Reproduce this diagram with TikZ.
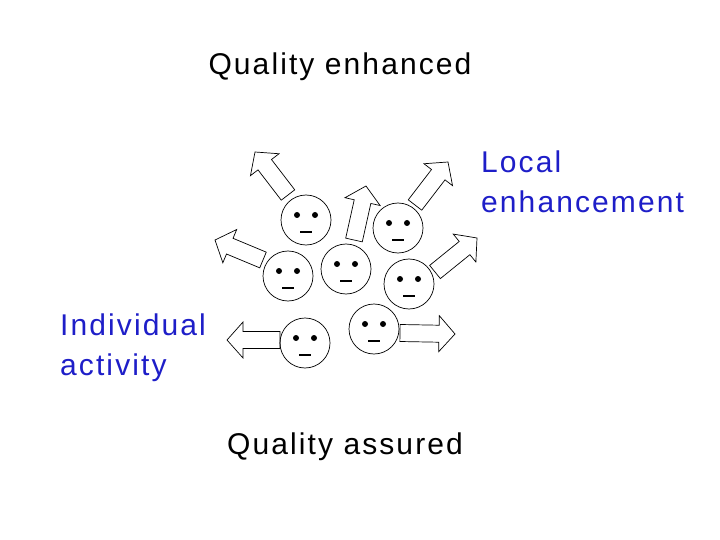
\documentclass[tikz,border=0pt]{standalone}
\usepackage{fontspec}
\setmainfont[LetterSpace=7]{Liberation Sans}
\usetikzlibrary{calc}
\definecolor{lblue}{RGB}{30,30,200}
\tikzset{x=1pt,y=-1pt,
 lbl/.style={font=\fontsize{30}{40}\selectfont,inner sep=0},
 face/.style={draw,circle,minimum size=50pt,inner sep=0,line width=0.7pt},
 eye/.style={fill,circle,inner sep=0,minimum size=6pt},
 barr/.style={draw,line width=0.7pt,fill=white}}
\newcommand\face[2]{%
 \node[face] (#1) at (#2) {};
 \node[eye] at ($(#1)+(-9,-5)$) {};
 \node[eye] at ($(#1)+(9,-5)$) {};
 \draw[line width=2.2pt] ($(#1)+(-6,12)$) -- ($(#1)+(6,12)$);}
\newcommand\blockarrow[2]{%
 \coordinate (bb) at ($(#2)!16pt!(#1)$);
 \draw[barr] ($(#1)!8.5pt!90:(#2)$) -- ($(bb)!8.5pt!90:(#2)$) -- ($(bb)!18pt!90:(#2)$) -- (#2)
  -- ($(bb)!18pt!-90:(#2)$) -- ($(bb)!8.5pt!-90:(#2)$) -- ($(#1)!8.5pt!-90:(#2)$) -- cycle;}
\begin{document}
\begin{tikzpicture}
\useasboundingbox (0,0) rectangle (720,540);
\node[lbl] (qe) at (340,67) {Quality enhanced};
\node[lbl] (qa) at (345,447) {Quality assured};
\node[lbl,text=lblue,align=left,anchor=west] (le) at (481,182) {Local\\enhancement};
\node[lbl,text=lblue,align=left,anchor=west] (ia) at (60,348) {Individual\\activity};
\coordinate (t1) at (288,195); \coordinate (h1) at (255,152);
\coordinate (t2) at (354,240); \coordinate (h2) at (366,186);
\coordinate (t3) at (415,205); \coordinate (h3) at (448,162);
\coordinate (t4) at (263,260); \coordinate (h4) at (215,240);
\coordinate (t5) at (435,272); \coordinate (h5) at (477,238);
\coordinate (t6) at (280,340); \coordinate (h6) at (227,340);
\coordinate (t7) at (400,333); \coordinate (h7) at (455,334);
\blockarrow{t1}{h1}\blockarrow{t2}{h2}\blockarrow{t3}{h3}\blockarrow{t4}{h4}
\blockarrow{t5}{h5}\blockarrow{t6}{h6}\blockarrow{t7}{h7}
\face{f1}{306,220}\face{f2}{398,228}\face{f3}{288,276}\face{f4}{346,269}
\face{f5}{409,284}\face{f6}{374,329}\face{f7}{305,343}
\end{tikzpicture}
\end{document}
